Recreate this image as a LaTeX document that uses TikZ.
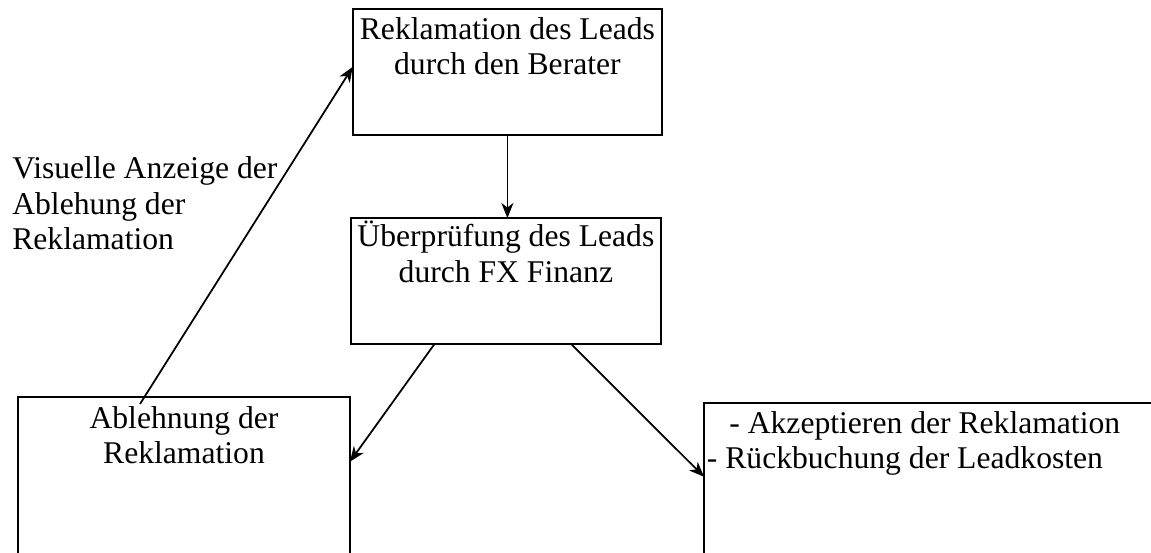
\documentclass[tikz,border=0pt]{standalone}
\usepackage{fontspec}
\setmainfont{Liberation Serif}
\usetikzlibrary{arrows.meta,calc}
\begin{document}
\begin{tikzpicture}[x=0.02cm, y=-0.02cm,
    box/.style={draw, line width=1pt, inner sep=0pt, outer sep=0pt},
    txt/.style={inner sep=0pt, align=center, font=\fontsize{18}{20.2}\selectfont},
    pfeil/.style={-{Stealth[length=0.3cm, width=0.24cm, inset=0.09cm]}, line width=1pt}]
    \clip (0,0) rectangle (1151,553);

    % Reklamation durch den Berater
    \node[box, minimum width=6.19cm, minimum height=2.52cm] (rekl) at (507.4,72) {};
    \node[txt, anchor=north] (rekltxt) at ([yshift=-0.16cm]rekl.north) {Reklamation des Leads\\durch den Berater};

    % Pruefung durch FX Finanz
    \node[box, minimum width=6.21cm, minimum height=2.52cm] (pruef) at (505.9,281) {};
    \node[txt, anchor=north] (prueftxt) at ([yshift=-0.06cm]pruef.north) {Überprüfung des Leads\\durch FX Finanz};

    % Ablehnung
    \node[box, minimum width=6.64cm, minimum height=4.46cm] (ablbox) at (184,508.5) {};
    \node[txt, anchor=north] (abltxt) at ([yshift=-0.18cm]ablbox.north) {Ablehnung der\\Reklamation};

    % Akzeptieren
    \node[box, minimum width=9.92cm, minimum height=4.34cm] (akzbox) at (952,511.5) {};
    \node[txt, align=left, anchor=north west] (akztxt) at ([xshift=0.05cm, yshift=-0.16cm]akzbox.north west) {\hspace{0.45cm}- Akzeptieren der Reklamation\\- Rückbuchung der Leadkosten};

    % Anzeige
    \node[txt, align=left, anchor=north west] (anz) at (12,156.5) {Visuelle Anzeige der\\Ablehung der\\Reklamation};
    \coordinate (ablstart) at (140,404);

    % Arrows
    \draw[pfeil] (rekl.south) -- (rekl.south |- pruef.north);
    \draw[pfeil] ($(pruef.south west)!0.27!(pruef.south east)$) -- ($(ablbox.north east)!0.29!(ablbox.south east)$);
    \draw[pfeil] ($(pruef.south west)!0.71!(pruef.south east)$) -- ($(akzbox.north west)!0.34!(akzbox.south west)$);
    \draw[pfeil] (ablstart) -- ($(rekl.north west)!0.46!(rekl.south west)$);
\end{tikzpicture}
\end{document}
